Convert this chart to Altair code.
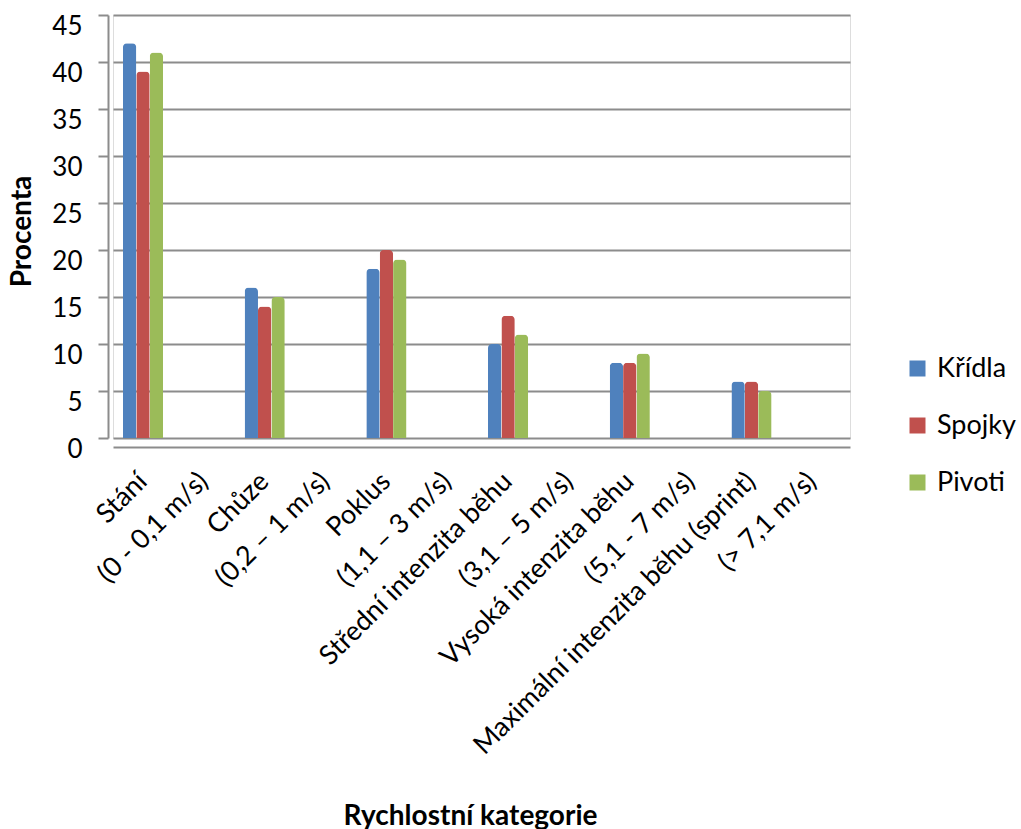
import altair as alt
import pandas as pd

categories = ["Stání", "(0 - 0,1 m/s)", "Chůze", "(0,2 – 1 m/s)", "Poklus", "(1,1 – 3 m/s)",
              "Střední intenzita běhu", "(3,1 – 5 m/s)", "Vysoká intenzita běhu", "(5,1 - 7 m/s)",
              "Maximální intenzita běhu (sprint)", "(> 7,1 m/s)"]
bar_categories = categories[0::2]
series = ["Křídla", "Spojky", "Pivoti"]
kridla = [42, 16, 18, 10, 8, 6]
spojky = [39, 14, 20, 13, 8, 6]
pivoti = [41, 15, 19, 11, 9, 5]
colors = ["#4F81BD", "#C0504D", "#9BBB59"]

rows = []
for name, vals in zip(series, [kridla, spojky, pivoti]):
    for c, v in zip(bar_categories, vals):
        rows.append({"kategorie": c, "serie": name, "procenta": v})
df = pd.DataFrame(rows)

FONT = "Lato"
W, H = 737, 423
LEFT, TOP = 113, 15

chart = alt.Chart(df).mark_bar(cornerRadiusTopLeft=4, cornerRadiusTopRight=4).encode(
    x=alt.X("kategorie:N", sort=categories,
            scale=alt.Scale(domain=categories, paddingInner=0.34, paddingOuter=0.226, align=0.36),
            axis=alt.Axis(title="Rychlostní kategorie", labelAngle=-45, labelAlign="right",
                          labelBaseline="middle", labelFontSize=27, labelFont=FONT,
                          labelColor="#000000", labelPadding=30, ticks=False,
                          domainColor="#8c8c8c", domainWidth=2, offset=9,
                          titleFont=FONT, titleFontSize=28, titleFontWeight="bold",
                          titleColor="#000000", titleX=357, titleY=355,
                          titleAlign="center", titleBaseline="top", labelLimit=700)),
    xOffset=alt.XOffset("serie:N", sort=series, scale=alt.Scale(paddingInner=0)),
    y=alt.Y("procenta:Q", scale=alt.Scale(domain=[0, 45], nice=False),
            axis=alt.Axis(title="Procenta", values=list(range(0, 50, 5)), labelFontSize=26,
                          labelFont=FONT, labelColor="#000000", labelPadding=16, tickSize=10,
                          tickColor="#8c8c8c", tickWidth=2, domainColor="#8c8c8c",
                          domainWidth=2, offset=5, labelOffset=11, gridColor="#8c8c8c",
                          gridWidth=2, titleFont=FONT, titleFontSize=28,
                          titleFontWeight="bold", titleColor="#000000",
                          titleX=-86, titleY=216, titleAngle=270, titleAlign="center",
                          titleBaseline="middle")),
    color=alt.Color("serie:N", sort=series,
                    scale=alt.Scale(domain=series, range=colors),
                    legend=alt.Legend(title=None, orient="none", legendX=791, legendY=340,
                                      symbolType="square", symbolSize=256,
                                      symbolStrokeWidth=0, labelFontSize=27, labelFont=FONT,
                                      labelColor="#000000", rowPadding=29, labelOffset=6,
                                      padding=0)),
).properties(
    width=W, height=H,
    autosize=alt.AutoSizeParams(type="none"),
    padding={"left": LEFT, "top": TOP, "right": 1021 - LEFT - W, "bottom": 829 - TOP - H},
).configure_view(stroke=None).configure(background="white")

chart.save("out.html", embed_options={"renderer": "svg", "actions": False})
